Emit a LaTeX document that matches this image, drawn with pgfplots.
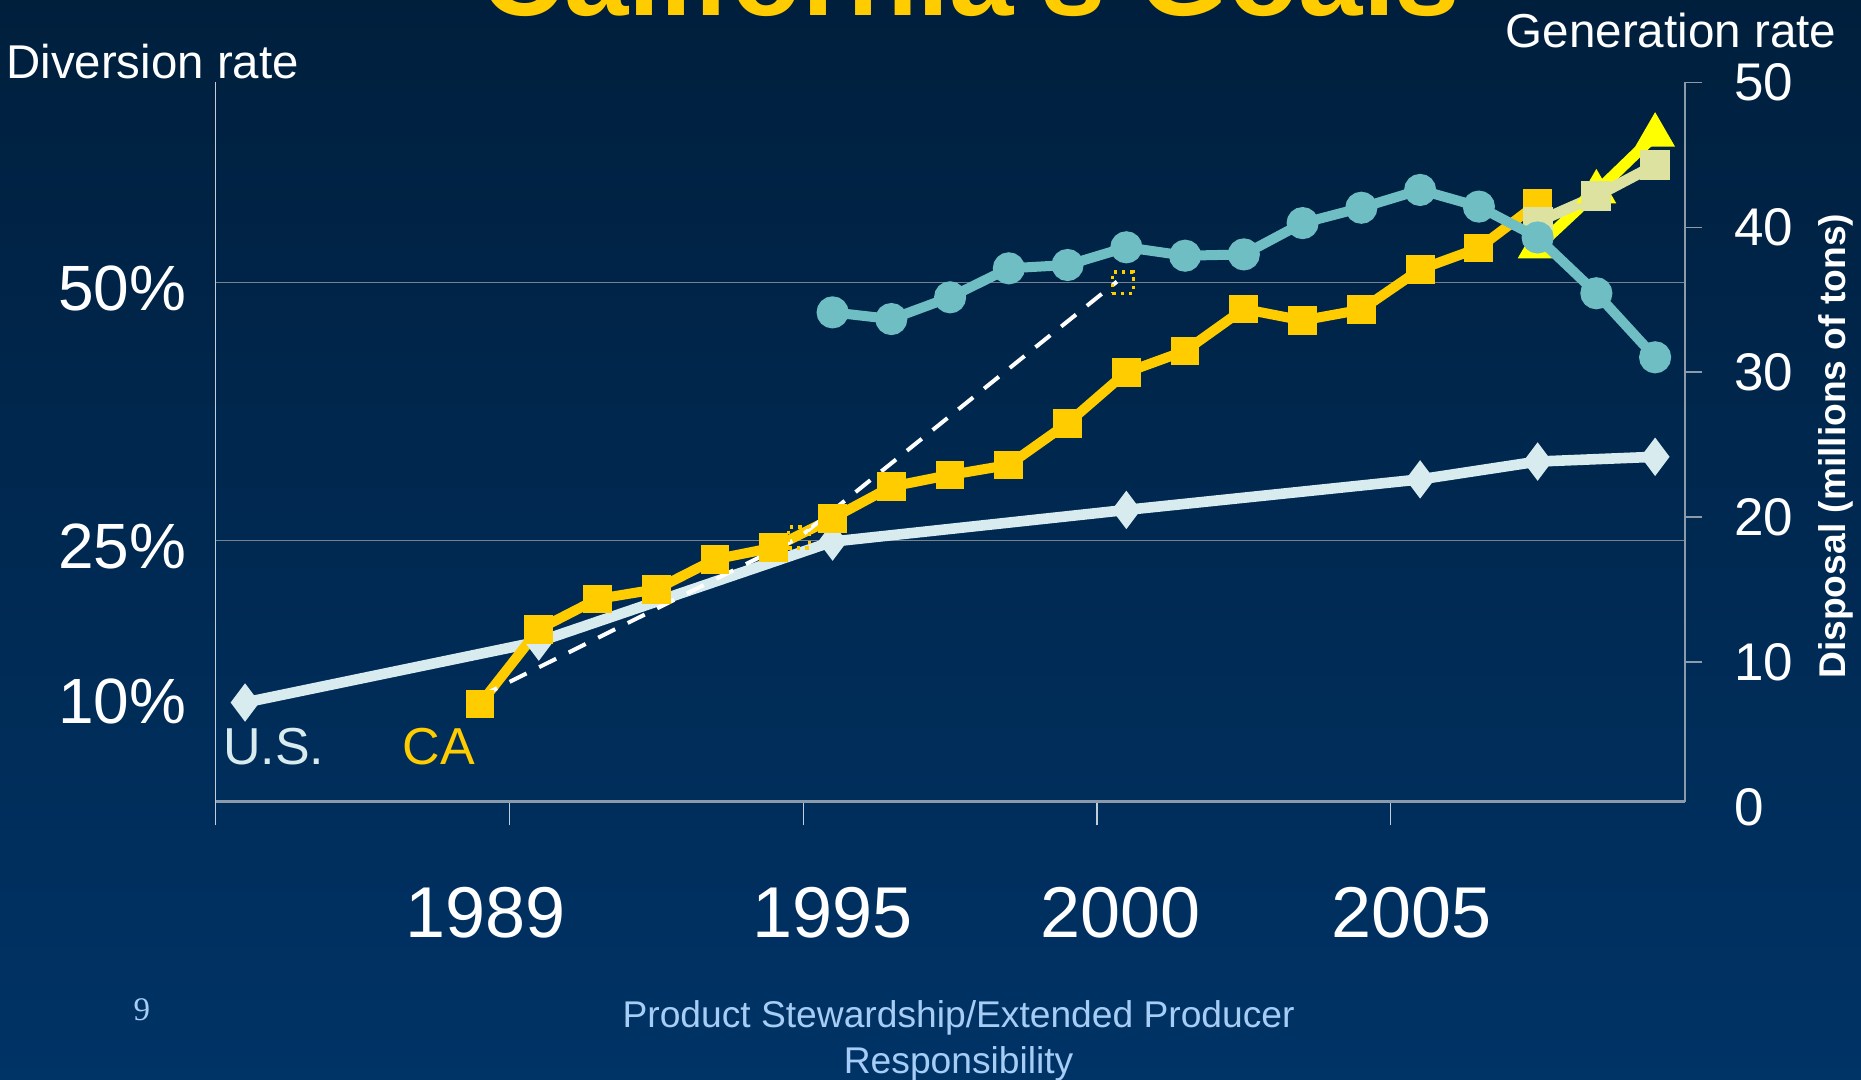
\documentclass[border=0pt]{standalone}
\usepackage{fontspec}
\setmainfont{Liberation Sans}
\newfontfamily\seriffont{Liberation Serif}
\usepackage{pgfplots}
\pgfplotsset{compat=1.18}
\usetikzlibrary{shadings}

\definecolor{bgtop}{RGB}{0,31,61}
\definecolor{bgbot}{RGB}{0,51,102}
\definecolor{usblue}{RGB}{216,236,240}
\definecolor{cagold}{RGB}{255,204,0}
\definecolor{tealc}{RGB}{110,190,196}
\definecolor{yel}{RGB}{255,255,0}
\definecolor{beige}{RGB}{222,226,160}
\definecolor{footc}{RGB}{165,205,245}
\definecolor{axgray}{RGB}{140,155,172}
\definecolor{axlight}{RGB}{195,205,215}
\definecolor{gridc}{RGB}{120,130,142}

\begin{document}
\begin{tikzpicture}
\path[use as bounding box] (0,0) rectangle (930.5pt,540pt);
\shade[top color=bgtop,bottom color=bgbot] (0,0) rectangle (930.5pt,540pt);
\begin{scope}
\clip (0,0) rectangle (930.5pt,540pt);
\node[anchor=base,inner sep=0pt,text=cagold,font=\fontsize{57.8}{60}\selectfont\bfseries] at (485.1pt,532.3pt) {California's Goals};
\end{scope}

\node[anchor=base west,inner sep=0pt,text=white,font=\fontsize{23.7}{26}\selectfont] at (3pt,500.6pt) {Diversion rate};
\node[anchor=base east,inner sep=0pt,text=white,font=\fontsize{23.8}{26}\selectfont] at (918.4pt,516pt) {Generation rate};
\node[rotate=90,inner sep=0pt,text=white,font=\fontsize{18.6}{21}\selectfont\bfseries] at (918pt,316.9pt) {Disposal (millions of tons)};
\node[anchor=base west,inner sep=0pt,text=usblue,font=\fontsize{26}{29}\selectfont] at (111.3pt,157.5pt) {U.S.};
\node[anchor=base west,inner sep=0pt,text=cagold,font=\fontsize{26}{29}\selectfont] at (201.1pt,157.5pt) {CA};
\node[anchor=base,inner sep=0pt,text=footc,font=\seriffont\fontsize{16.5}{19}\selectfont] at (70.9pt,29.7pt) {9};
\node[anchor=base,inner sep=0pt,text=footc,font=\fontsize{18.6}{21}\selectfont] at (479.3pt,26.2pt) {Product Stewardship/Extended Producer};
\node[anchor=base,inner sep=0pt,text=footc,font=\fontsize{18.6}{21}\selectfont] at (479.3pt,3.4pt) {Responsibility};

\begin{axis}[
  at={(107.83pt,139.22pt)}, anchor=south west,
  scale only axis, width=734.41pt, height=359.56pt,
  xmin=1984.5, xmax=2009.5, ymin=-0.3, ymax=69.41,
  clip=false,
  axis x line*=bottom, axis y line*=left,
  x axis line style={draw=axgray,line width=1.2pt,-},
  y axis line style={draw=axlight,line width=0.7pt,-},
  tick align=outside, major tick length=11.9pt,
  xtick={1984.5,1989.5,1994.5,1999.5,2004.5}, xticklabels={},
  xtick style={draw=axlight,line width=0.6pt},
  ytick={25,50}, yticklabels={25\%,50\%},
  extra y ticks={10}, extra y tick labels={10\%},
  extra y tick style={grid=none},
  ytick style={draw=none},
  ymajorgrids, grid style={draw=gridc,line width=0.75pt},
  yticklabel style={font=\fontsize{32}{36}\selectfont,text=white,anchor=east,inner sep=0pt,xshift=-2.6pt,yshift=-3pt},
]
\addplot[usblue,line width=5.3pt,mark=diamond*,mark size=5.2pt,mark options={draw=none,fill=usblue}] coordinates {
(1985,9.30) (1990,15.2) (1995,24.9) (2000,27.97) (2005,30.93) (2007,32.66) (2009,33.12)};
\addplot[only marks,mark=square,mark size=5.3pt,mark options={draw=cagold,fill=none,line width=1.7pt,dash pattern=on 1.7pt off 2.5pt}] coordinates {
(1994.43,25.29) (1999.94,50.0)};
\addplot[cagold,line width=5pt,mark=square*,mark size=4.7pt,mark options={draw=none,fill=cagold}] coordinates {
(1989,9.16) (1990,16.41) (1991,19.34) (1992,20.28) (1993,23.18) (1994,24.32) (1995,27.16) (1996,30.23) (1997,31.36) (1998,32.33) (1999,36.37) (2000,41.31) (2001,43.38) (2002,47.45) (2003,46.34) (2004,47.38) (2005,51.29) (2006,53.36) (2007,57.67)};
\addplot[yel,line width=5.5pt,mark=triangle*,mark size=6pt,mark options={draw=none,fill=yel}] coordinates {
(2007,53.47) (2008,58.8) (2009,64.3)};
\addplot[beige,line width=5.5pt,mark=square*,mark size=4.8pt,mark options={draw=none,fill=beige}] coordinates {
(2007,55.9) (2008,58.4) (2009,61.4)};
\addplot[white,line width=2pt,dash pattern=on 9.5pt off 7pt] coordinates {
(1989,9.87) (1994.43,25.29) (1999.84,50.1)};
\node[anchor=base,inner sep=0pt,text=white,font=\fontsize{36}{40}\selectfont] at (axis cs:1989.1,-0.3) [yshift=-68.1pt] {1989};
\node[anchor=base,inner sep=0pt,text=white,font=\fontsize{36}{40}\selectfont] at (axis cs:1995,-0.3) [yshift=-68.1pt] {1995};
\node[anchor=base,inner sep=0pt,text=white,font=\fontsize{36}{40}\selectfont] at (axis cs:1999.9,-0.3) [yshift=-68.1pt] {2000};
\node[anchor=base,inner sep=0pt,text=white,font=\fontsize{36}{40}\selectfont] at (axis cs:2004.85,-0.3) [yshift=-68.1pt] {2005};
\end{axis}

\begin{axis}[
  at={(107.83pt,139.22pt)}, anchor=south west,
  scale only axis, width=734.41pt, height=359.56pt,
  xmin=1984.5, xmax=2009.5, ymin=0.37, ymax=50,
  clip=false,
  axis x line=none, axis y line*=right,
  y axis line style={draw=axgray,line width=1pt,-},
  tick align=outside, major tick length=8.9pt,
  ytick={10,20,30,40,50},
  ytick style={draw=axgray,line width=0.8pt},
  /pgf/number format/assume math mode=true,
  yticklabel style={font=\fontsize{26.5}{30}\selectfont,text=white,anchor=west,inner sep=0pt,xshift=15.8pt},
]
\addplot[tealc,line width=5pt,mark=*,mark size=5.5pt,mark options={draw=none,fill=tealc}] coordinates {
(1995,34.13) (1996,33.67) (1997,35.17) (1998,37.17) (1999,37.40) (2000,38.62) (2001,38.04) (2002,38.13) (2003,40.29) (2004,41.35) (2005,42.58) (2006,41.43) (2007,39.30) (2008,35.45) (2009,31.03)};
\node[anchor=west,inner sep=0pt,text=white,font=\fontsize{26.5}{30}\selectfont] at (axis cs:2009.5,0) [xshift=24.7pt] {0};
\end{axis}
\end{tikzpicture}
\end{document}
